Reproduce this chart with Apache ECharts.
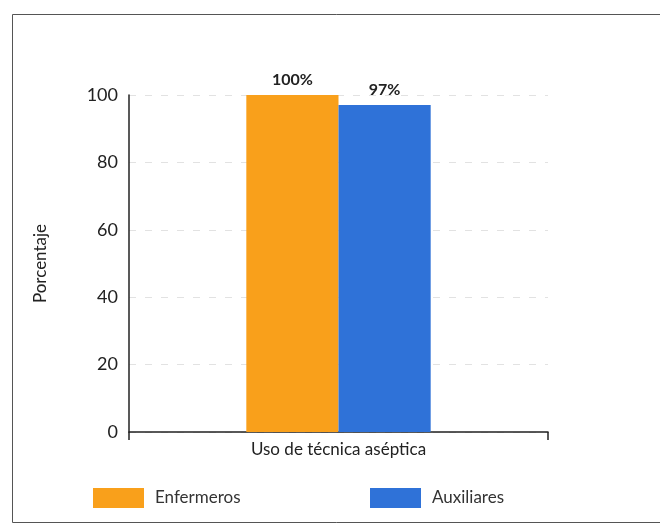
<!DOCTYPE html>
<html>
<head>
<meta charset="utf-8">
<script src="https://cdn.jsdelivr.net/npm/echarts@6/dist/echarts.min.js"></script>
<style>
  html, body { margin: 0; padding: 0; background: #fff; }
  #chart { width: 660px; height: 528px; }
</style>
</head>
<body>
<div id="chart"></div>
<script>
const categories = ["Uso de técnica aséptica"];
const enfermeros = [100];
const auxiliares = [97];
const yTicks = [0, 20, 40, 60, 80, 100];

const font = "Lato, 'Open Sans', sans-serif";

const chart = echarts.init(document.getElementById("chart"));

chart.setOption({
    animation: false,
    textStyle: { fontFamily: font },
    graphic: [
        {
            type: "rect",
            shape: { x: 12.5, y: 14.5, width: 660, height: 508 },
            style: { fill: "none", stroke: "#555", lineWidth: 1 }
        }
    ],
    grid: { left: 129, right: 112, top: 95, bottom: 96 },
    legend: [
        {
            data: ["Enfermeros"],
            left: 88, top: 483,
            itemWidth: 51, itemHeight: 20,
            icon: "rect",
            textStyle: { fontSize: 17, color: "#333", fontFamily: font, padding: [0, 0, 0, 6] }
        },
        {
            data: ["Auxiliares"],
            left: 365, top: 483,
            itemWidth: 51, itemHeight: 20,
            icon: "rect",
            textStyle: { fontSize: 17, color: "#333", fontFamily: font, padding: [0, 0, 0, 6] }
        }
    ],
    xAxis: {
        type: "category",
        data: categories,
        axisLine: { lineStyle: { color: "#222", width: 1.5 } },
        axisTick: { show: true, length: 8, lineStyle: { color: "#222", width: 1.5 } },
        axisLabel: { fontSize: 17, color: "#222", margin: 9, fontFamily: font }
    },
    yAxis: {
        type: "value",
        min: 0,
        max: 100,
        interval: 20,
        name: "Porcentaje",
        nameLocation: "middle",
        nameGap: 80,
        nameTextStyle: { fontSize: 17, color: "#222", fontFamily: font },
        axisLine: { show: true, lineStyle: { color: "#222", width: 1.5 } },
        axisTick: { show: false },
        axisLabel: {
            fontSize: 18, color: "#222", margin: 11, fontFamily: font,
            formatter: v => yTicks.includes(v) ? String(v) : ""
        },
        splitLine: { lineStyle: { color: "#e2e2e2", type: [7, 9], width: 1 } }
    },
    series: [
        {
            name: "Enfermeros",
            type: "bar",
            data: enfermeros,
            barGap: "0%",
            barCategoryGap: "56%",
            itemStyle: { color: "#f9a01b" },
            label: {
                show: true, position: "top", distance: 7,
                formatter: "{c}%", fontSize: 16, fontWeight: "bold", color: "#222", fontFamily: font
            }
        },
        {
            name: "Auxiliares",
            type: "bar",
            data: auxiliares,
            itemStyle: { color: "#2f72d8" },
            label: {
                show: true, position: "top", distance: 7,
                formatter: "{c}%", fontSize: 16, fontWeight: "bold", color: "#222", fontFamily: font
            }
        }
    ]
});
</script>
</body>
</html>
